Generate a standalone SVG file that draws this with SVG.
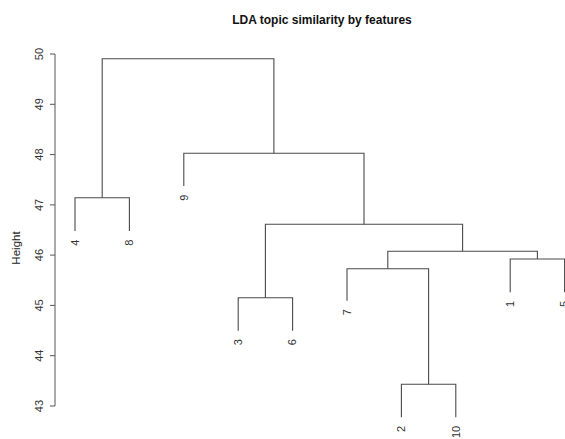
<svg xmlns="http://www.w3.org/2000/svg" width="565" height="439" viewBox="0 0 565 439">
<style>
text{font-family:"Liberation Sans",Arial,sans-serif;fill:#222}
.title{font-size:12px;font-weight:bold;fill:#111}
.tick{font-size:11px;fill:#333}
.leaf{font-size:11px;fill:#333}
.ylab{font-size:11.5px;fill:#222}
.seg{fill:none;stroke:#4a4a4a;stroke-width:1.1}
.axis{fill:none;stroke:#555;stroke-width:1}
</style>
<rect width="565" height="439" fill="#fff"/>
<text class="title" x="322" y="24" text-anchor="middle">LDA topic similarity by features</text>
<g id="y-axis">
<path class="axis" d="M55,54V406M50,54H55M50,104.3H55M50,154.6H55M50,204.9H55M50,255.1H55M50,305.4H55M50,355.7H55M50,406H55"/>
<text class="tick" transform="translate(39.5,54) rotate(-90)" text-anchor="middle" dy="0.35em">50</text>
<text class="tick" transform="translate(39.5,104.3) rotate(-90)" text-anchor="middle" dy="0.35em">49</text>
<text class="tick" transform="translate(39.5,154.6) rotate(-90)" text-anchor="middle" dy="0.35em">48</text>
<text class="tick" transform="translate(39.5,204.9) rotate(-90)" text-anchor="middle" dy="0.35em">47</text>
<text class="tick" transform="translate(39.5,255.1) rotate(-90)" text-anchor="middle" dy="0.35em">46</text>
<text class="tick" transform="translate(39.5,305.4) rotate(-90)" text-anchor="middle" dy="0.35em">45</text>
<text class="tick" transform="translate(39.5,355.7) rotate(-90)" text-anchor="middle" dy="0.35em">44</text>
<text class="tick" transform="translate(39.5,406) rotate(-90)" text-anchor="middle" dy="0.35em">43</text>
<text class="ylab" transform="translate(20,248) rotate(-90)" text-anchor="middle">Height</text>
</g>
<g id="connectors">
<path id="m-4-8" class="seg" d="M75,231V197.7H129.4V231"/>
<path id="m-3-6" class="seg" d="M238.2,330.7V297.7H292.6V330.7"/>
<path id="m-2-10" class="seg" d="M401.4,417.3V384.3H455.8V417.3"/>
<path id="m-1-5" class="seg" d="M510.2,292.3V259H564.6V292.3"/>
<path id="m-7" class="seg" d="M347,300.7V268.7H428.6V384.3"/>
<path id="m-a" class="seg" d="M387.8,268.7V251.3H537.4V259"/>
<path id="m-b" class="seg" d="M265.4,297.7V224.3H462.6V251.3"/>
<path id="m-c" class="seg" d="M183.8,186V153.3H364V224.3"/>
<path id="m-root" class="seg" d="M102.2,197.7V58.8H273.9V153.3"/>
</g>
<g id="leaf-4"><text class="leaf" transform="translate(75,239.5) rotate(-90)" text-anchor="end" dy="0.35em">4</text></g>
<g id="leaf-8"><text class="leaf" transform="translate(129.4,239.5) rotate(-90)" text-anchor="end" dy="0.35em">8</text></g>
<g id="leaf-9"><text class="leaf" transform="translate(183.8,194.5) rotate(-90)" text-anchor="end" dy="0.35em">9</text></g>
<g id="leaf-3"><text class="leaf" transform="translate(238.2,339.2) rotate(-90)" text-anchor="end" dy="0.35em">3</text></g>
<g id="leaf-6"><text class="leaf" transform="translate(292.6,339.2) rotate(-90)" text-anchor="end" dy="0.35em">6</text></g>
<g id="leaf-7"><text class="leaf" transform="translate(347,309.2) rotate(-90)" text-anchor="end" dy="0.35em">7</text></g>
<g id="leaf-2"><text class="leaf" transform="translate(401.4,425.8) rotate(-90)" text-anchor="end" dy="0.35em">2</text></g>
<g id="leaf-10"><text class="leaf" transform="translate(455.8,425.8) rotate(-90)" text-anchor="end" dy="0.35em">10</text></g>
<g id="leaf-1"><text class="leaf" transform="translate(510.2,300.8) rotate(-90)" text-anchor="end" dy="0.35em">1</text></g>
<g id="leaf-5"><text class="leaf" transform="translate(564.6,300.8) rotate(-90)" text-anchor="end" dy="0.35em">5</text></g>
</svg>
